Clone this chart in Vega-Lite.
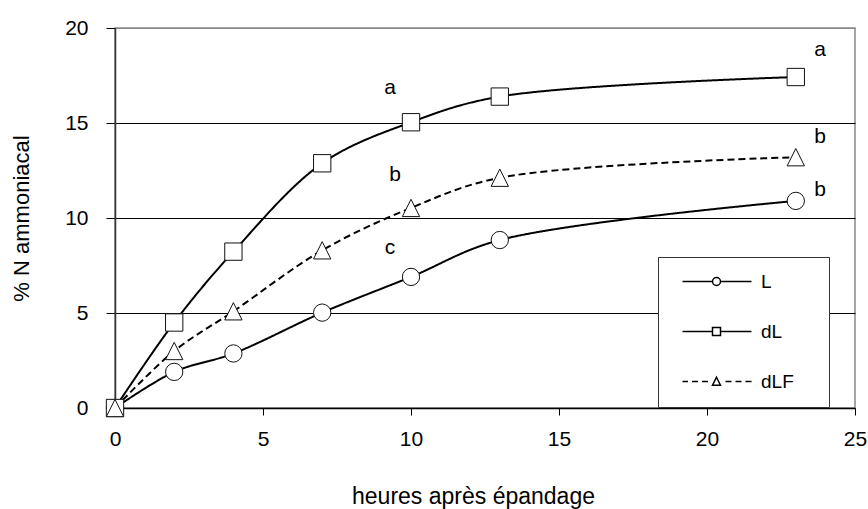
{
  "$schema": "https://vega.github.io/schema/vega-lite/v6.json",
  "width": 740,
  "height": 380,
  "autosize": {"type": "none"},
  "padding": {"left": 115, "top": 28, "right": 13, "bottom": 101},
  "background": "white",
  "config": {
    "font": "Liberation Sans",
    "view": {"stroke": "#888", "strokeWidth": 1.5},
    "legend": {
      "orient": "none",
      "legendX": 543,
      "legendY": 229,
      "padding": 15,
      "rowPadding": 30,
      "symbolSize": 100,
      "labelOffset": 69,
      "labelFontSize": 19,
      "labelColor": "#000",
      "strokeColor": "#333",
      "fillColor": "white",
      "symbolStrokeWidth": 1.5,
      "symbolStrokeColor": "#000",
      "symbolFillColor": "white",
      "symbolOpacity": 1
    }
  },
  "datasets": {
    "series": [
      {"serie": "L", "heures": 0, "pct": 0},
      {"serie": "L", "heures": 2, "pct": 1.9},
      {"serie": "L", "heures": 4, "pct": 2.87},
      {"serie": "L", "heures": 7, "pct": 5.02},
      {"serie": "L", "heures": 10, "pct": 6.9},
      {"serie": "L", "heures": 13, "pct": 8.84},
      {"serie": "L", "heures": 23, "pct": 10.9},
      {"serie": "dL", "heures": 0, "pct": 0},
      {"serie": "dL", "heures": 2, "pct": 4.5},
      {"serie": "dL", "heures": 4, "pct": 8.23},
      {"serie": "dL", "heures": 7, "pct": 12.88},
      {"serie": "dL", "heures": 10, "pct": 15.04},
      {"serie": "dL", "heures": 13, "pct": 16.39},
      {"serie": "dL", "heures": 23, "pct": 17.42},
      {"serie": "dLF", "heures": 0, "pct": 0},
      {"serie": "dLF", "heures": 2, "pct": 3.0},
      {"serie": "dLF", "heures": 4, "pct": 5.09},
      {"serie": "dLF", "heures": 7, "pct": 8.3},
      {"serie": "dLF", "heures": 10, "pct": 10.53},
      {"serie": "dLF", "heures": 13, "pct": 12.12},
      {"serie": "dLF", "heures": 23, "pct": 13.2}
    ],
    "lettres": [
      {"heures": 9.29, "pct": 16.84, "lettre": "a"},
      {"heures": 9.46, "pct": 12.26, "lettre": "b"},
      {"heures": 9.29, "pct": 8.4, "lettre": "c"},
      {"heures": 23.82, "pct": 18.84, "lettre": "a"},
      {"heures": 23.82, "pct": 14.28, "lettre": "b"},
      {"heures": 23.82, "pct": 11.47, "lettre": "b"}
    ]
  },
  "layer": [
    {
      "data": {"name": "series"},
      "mark": {"type": "line", "interpolate": "catmull-rom", "color": "#000", "strokeWidth": 2},
      "encoding": {
        "x": {
          "field": "heures",
          "type": "quantitative",
          "scale": {"domain": [0, 25], "nice": false},
          "axis": {
            "values": [0, 5, 10, 15, 20, 25],
            "grid": false,
            "tickSize": 7,
            "tickColor": "#000",
            "domainColor": "#000",
            "domainWidth": 1.5,
            "labelFontSize": 21,
            "labelColor": "#000",
            "labelPadding": 13,
            "labelFlush": false,
            "labelOverlap": false,
            "title": "heures  après épandage",
            "titleFontSize": 23,
            "titleFontWeight": "normal",
            "titleColor": "#000",
            "titleX": 358,
            "titleY": 95,
            "titleAlign": "center",
            "titleBaseline": "alphabetic"
          }
        },
        "y": {
          "field": "pct",
          "type": "quantitative",
          "scale": {"domain": [0, 20], "nice": false},
          "axis": {
            "values": [0, 5, 10, 15, 20],
            "grid": true,
            "gridColor": {"condition": {"test": "datum.value === 20", "value": "#888"}, "value": "#000"},
            "gridWidth": 1,
            "gridOpacity": 1,
            "tickSize": 9,
            "tickColor": "#000",
            "domainColor": "#333",
            "domainWidth": 1.5,
            "labelFontSize": 21,
            "labelColor": "#000",
            "labelPadding": 18,
            "labelFlush": false,
            "labelOverlap": false,
            "title": "% N ammoniacal",
            "titleFontSize": 22,
            "titleFontWeight": "normal",
            "titleColor": "#000",
            "titleAngle": -90,
            "titleX": -94,
            "titleY": 190,
            "titleAlign": "center",
            "titleBaseline": "middle"
          }
        },
        "detail": {"field": "serie", "type": "nominal"},
        "strokeDash": {
          "field": "serie",
          "type": "nominal",
          "scale": {"domain": ["L", "dL", "dLF"], "range": [[1, 0], [1, 0], [7, 4]]},
          "legend": null
        }
      }
    },
    {
      "data": {"name": "series"},
      "mark": {"type": "point", "filled": true, "fill": "white", "stroke": "#111", "strokeWidth": 1, "size": 300, "opacity": 1},
      "encoding": {
        "x": {"field": "heures", "type": "quantitative"},
        "y": {"field": "pct", "type": "quantitative"},
        "shape": {
          "field": "serie",
          "type": "nominal",
          "scale": {"domain": ["L", "dL", "dLF"], "range": ["circle", "square", "M0,-1L1,1L-1,1Z"]},
          "legend": null
        }
      }
    },
    {
      "data": {"name": "lettres"},
      "mark": {"type": "text", "fontSize": 21, "color": "#000", "align": "center", "baseline": "middle"},
      "encoding": {
        "x": {"field": "heures", "type": "quantitative"},
        "y": {"field": "pct", "type": "quantitative"},
        "text": {"field": "lettre", "type": "nominal"}
      }
    },
    {
      "data": {"name": "series"},
      "transform": [{"filter": "false"}],
      "mark": {"type": "point", "filled": false, "stroke": "#000", "strokeWidth": 1.5, "opacity": 1},
      "encoding": {
        "shape": {
          "field": "serie",
          "type": "nominal",
          "scale": {
            "domain": ["L", "dL", "dLF"],
            "range": [
              "M0,0H6M7.6,0H13.8M6,0A0.8,0.8,0,1,1,7.6,0A0.8,0.8,0,1,1,6,0ZM25.6,0H25.6",
              "M0,0H6M7.6,0H13.8M6,-0.8H7.6V0.8H6ZM25.6,0H25.6",
              "M0,0H1.1M1.9,0H3.1M3.9,0H5.1M8.6,0H9.8M10.6,0H11.8M12.6,0H13.8M6.8,-0.85L7.6,0.75L6,0.75ZM25.6,0H25.6"
            ]
          },
          "legend": {
            "title": null,
            "encode": {
              "symbols": {
                "update": {
                  "stroke": {"value": "#000"},
                  "strokeWidth": {"value": 1.5},
                  "fill": {"value": "white"},
                  "opacity": {"value": 1}
                }
              }
            }
          }
        }
      }
    }
  ],
  "resolve": {"scale": {"shape": "independent"}}
}
